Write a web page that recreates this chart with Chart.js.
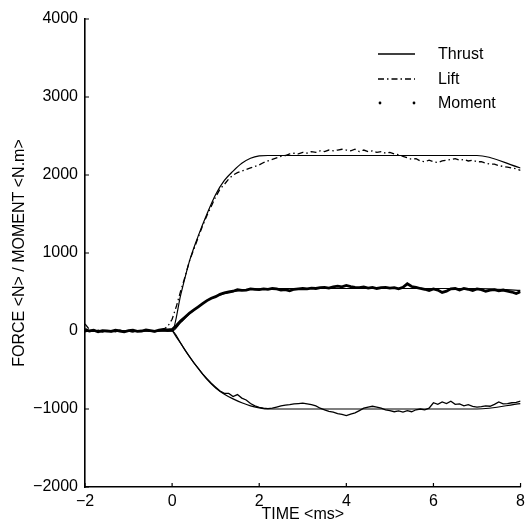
<!DOCTYPE html>
<html>
<head>
<meta charset="utf-8">
<script src="https://cdn.jsdelivr.net/npm/chart.js@4/dist/chart.umd.min.js"></script>
<style>
  html, body { margin: 0; padding: 0; background: #fff; }
  #wrap { width: 530px; height: 526px; }
</style>
</head>
<body>
<div id="wrap"><canvas id="c" width="530" height="526"></canvas></div>
<script>
// ---- DATA ----
const xTicks = [-2, 0, 2, 4, 6, 8];
const yTicks = [-2000, -1000, 0, 1000, 2000, 3000, 4000];

// smooth (model) curves
const modelTime   = [-2, 0, 0.2, 0.4, 0.6, 0.8, 1.0, 1.2, 1.4, 1.6, 1.8, 2.0, 2.2, 7.0, 8.0];
const liftModel   = [0, 0, 470, 900, 1220, 1500, 1750, 1930, 2050, 2150, 2215, 2245, 2250, 2250, 2090];
const momentModel = [0, 0, 110, 220, 310, 390, 445, 480, 505, 520, 532, 540, 545, 545, 520];
const thrustModel = [0, 0, -160, -330, -480, -620, -730, -810, -870, -920, -960, -985, -1000, -1000, -930];

// measured curves (time in ms)
const measTime = [
 -2.0,-1.9,-1.8,-1.7,-1.6,-1.5,-1.4,-1.3,-1.2,-1.1,-1.0,-0.9,-0.8,-0.7,-0.6,-0.5,-0.4,-0.3,-0.2,-0.1,
 0.0,0.1,0.2,0.3,0.4,0.5,0.6,0.7,0.8,0.9,1.0,1.1,1.2,1.3,1.4,1.5,1.6,1.7,1.8,1.9,
 2.0,2.1,2.2,2.3,2.4,2.5,2.6,2.7,2.8,2.9,3.0,3.1,3.2,3.3,3.4,3.5,3.6,3.7,3.8,3.9,
 4.0,4.1,4.2,4.3,4.4,4.5,4.6,4.7,4.8,4.9,5.0,5.1,5.2,5.3,5.4,5.5,5.6,5.7,5.8,5.9,
 6.0,6.1,6.2,6.3,6.4,6.5,6.6,6.7,6.8,6.9,7.0,7.1,7.2,7.3,7.4,7.5,7.6,7.7,7.8,7.9,8.0
];
const thrustMeas = [
 -10,5,-5,0,-15,5,0,-10,10,-5,0,-15,5,-5,10,0,-10,5,15,0,
 10,-80,-160,-250,-330,-410,-480,-550,-610,-670,-720,-770,-800,-800,-840,-815,-860,-885,-930,-960,
 -980,-990,-995,-990,-975,-960,-950,-945,-935,-930,-925,-935,-945,-960,-990,-1010,-1030,-1040,-1060,-1070,
 -1085,-1065,-1050,-1020,-990,-975,-965,-975,-990,-1010,-1020,-1035,-1025,-1040,-1020,-1035,-1010,-1000,-1010,-990,
 -920,-940,-910,-930,-900,-940,-935,-960,-945,-965,-975,-970,-960,-965,-940,-910,-935,-930,-920,-915,-900
];
const liftMeas = [
 90,20,-10,10,-5,5,-10,0,10,-5,0,-10,5,0,10,-5,5,0,20,60,
 150,320,520,700,900,1050,1200,1350,1480,1600,1720,1820,1880,1950,2000,2030,2050,2070,2090,2110,
 2130,2160,2180,2200,2220,2240,2250,2270,2280,2270,2290,2280,2300,2290,2310,2300,2320,2310,2320,2330,
 2320,2310,2330,2300,2320,2300,2310,2290,2300,2280,2290,2270,2260,2240,2220,2200,2210,2180,2170,2190,
 2170,2160,2180,2190,2200,2210,2190,2200,2180,2190,2170,2170,2150,2140,2140,2120,2110,2100,2090,2080,2060
];
const momentMeas = [
 20,0,10,-10,5,0,-5,10,0,-10,5,10,-5,0,15,5,-5,10,20,15,
 20,70,130,180,230,270,310,350,390,420,440,470,490,500,510,530,520,525,540,535,
 530,540,535,545,540,525,530,515,535,540,545,540,550,545,555,560,550,565,575,565,
 585,570,560,555,565,550,560,545,555,560,550,555,540,560,605,570,560,545,535,520,
 540,525,495,510,540,545,525,545,535,520,540,530,510,525,530,515,525,510,500,480,505
];

const seriesLabels = ['Thrust', 'Lift', 'Moment'];

// ---- BUILD ----
const pts = (xs, ys) => xs.map((x, i) => ({ x: x, y: ys[i] }));
const FONT = '"Liberation Sans", Arial, Helvetica, sans-serif';

const datasets = [
  { label: seriesLabels[0], data: pts(measTime, thrustMeas), borderColor: '#000', borderWidth: 1.3, pointRadius: 0, tension: 0, legendStyle: 'solid' },
  { label: seriesLabels[1], data: pts(measTime, liftMeas), borderColor: '#000', borderWidth: 1.3, borderDash: [6, 3, 1.5, 3], pointRadius: 0, tension: 0, legendStyle: 'dashdot' },
  { label: seriesLabels[2], data: pts(measTime, momentMeas), borderColor: '#000', borderWidth: 2.8, pointRadius: 0, tension: 0, legendStyle: 'dots' },
  { label: 'model', data: pts(modelTime, liftModel), borderColor: '#000', borderWidth: 1.2, pointRadius: 0, cubicInterpolationMode: 'monotone', hideLegend: true },
  { label: 'model', data: pts(modelTime, momentModel), borderColor: '#000', borderWidth: 1.2, pointRadius: 0, cubicInterpolationMode: 'monotone', hideLegend: true },
  { label: 'model', data: pts(modelTime, thrustModel), borderColor: '#000', borderWidth: 1.2, pointRadius: 0, cubicInterpolationMode: 'monotone', hideLegend: true }
];

const inwardTicks = {
  id: 'inwardTicks',
  afterDraw(chart) {
    const ctx = chart.ctx, xs = chart.scales.x, ys = chart.scales.y, a = chart.chartArea;
    ctx.save();
    ctx.strokeStyle = '#000';
    ctx.lineWidth = 1.2;
    ctx.beginPath();
    xTicks.forEach(v => { const px = xs.getPixelForValue(v); ctx.moveTo(px, a.bottom); ctx.lineTo(px, a.bottom - 4); });
    yTicks.forEach(v => { const py = ys.getPixelForValue(v); ctx.moveTo(a.left, py); ctx.lineTo(a.left + 4, py); });
    ctx.stroke();
    ctx.restore();
  }
};

const insideLegend = {
  id: 'insideLegend',
  afterDraw(chart) {
    const ctx = chart.ctx;
    const items = chart.data.datasets.filter(d => !d.hideLegend);
    const rowsY = [54, 79, 103];
    ctx.save();
    ctx.fillStyle = '#000';
    ctx.strokeStyle = '#000';
    ctx.font = '16px ' + FONT;
    ctx.textBaseline = 'middle';
    ctx.textAlign = 'left';
    items.forEach((d, i) => {
      const y = rowsY[i];
      const x0 = 378, x1 = 415;
      if (d.legendStyle === 'dots') {
        ctx.beginPath(); ctx.arc(x0 + 2, y, 1.4, 0, Math.PI * 2); ctx.fill();
        ctx.beginPath(); ctx.arc(x1 - 1, y, 1.4, 0, Math.PI * 2); ctx.fill();
      } else {
        ctx.lineWidth = 1.4;
        ctx.setLineDash(d.borderDash || []);
        ctx.beginPath(); ctx.moveTo(x0, y); ctx.lineTo(x1, y); ctx.stroke();
        ctx.setLineDash([]);
      }
      ctx.fillText(d.label, 438, y + 1);
    });
    ctx.restore();
  }
};

const minus = v => String(v).replace('-', '\u2212');

new Chart(document.getElementById('c'), {
  type: 'line',
  data: { datasets },
  plugins: [inwardTicks, insideLegend],
  options: {
    responsive: false,
    animation: false,
    devicePixelRatio: 1,
    layout: { padding: { top: 19, right: 5, left: 0, bottom: 0 } },
    plugins: { legend: { display: false }, tooltip: { enabled: false } },
    scales: {
      x: {
        type: 'linear', min: -2, max: 8,
        afterBuildTicks: s => { s.ticks = xTicks.map(v => ({ value: v })); },
        afterFit: s => { s.height = 39; },
        grid: { display: false, drawTicks: false },
        border: { display: true, color: '#000', width: 1.6 },
        ticks: { color: '#000', font: { family: FONT, size: 16 }, padding: 5, maxRotation: 0, callback: v => minus(v) },
        title: { display: true, text: 'TIME <ms>', color: '#000', font: { family: FONT, size: 16 }, padding: { top: 0, bottom: 2 } }
      },
      y: {
        type: 'linear', min: -2000, max: 4000,
        afterBuildTicks: s => { s.ticks = yTicks.map(v => ({ value: v })); },
        afterFit: s => { s.width = 85; },
        grid: { display: false, drawTicks: false },
        border: { display: true, color: '#000', width: 1.6 },
        ticks: { color: '#000', font: { family: FONT, size: 16 }, padding: 7, callback: v => minus(v) },
        title: { display: true, text: 'FORCE <N> / MOMENT <N.m>', color: '#000', font: { family: FONT, size: 16 }, padding: { top: 10, bottom: 0 } }
      }
    }
  }
});
</script>
</body>
</html>
